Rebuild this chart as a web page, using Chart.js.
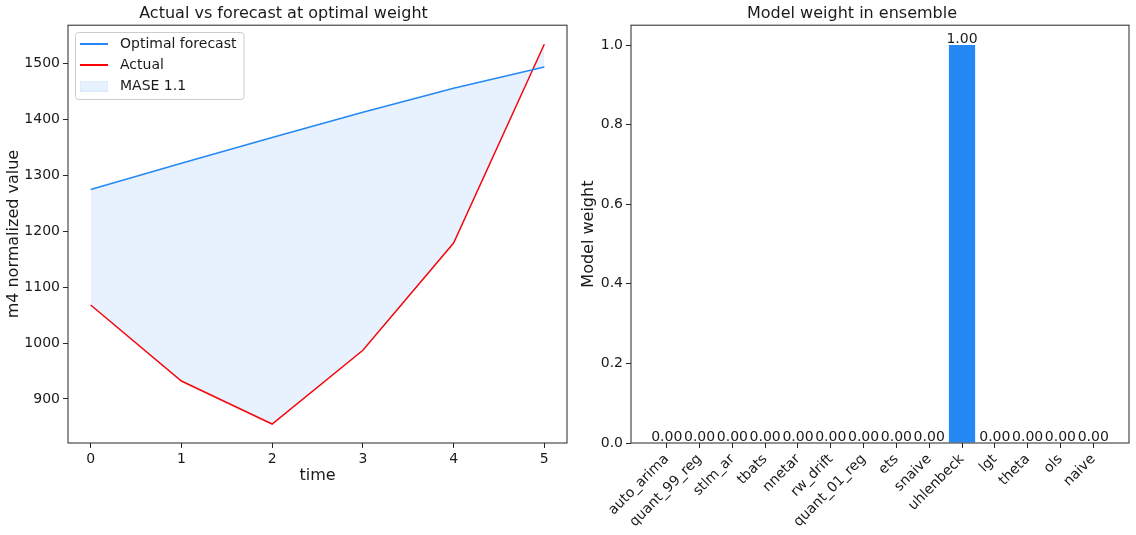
<!DOCTYPE html>
<html>
<head>
<meta charset="utf-8">
<script src="https://cdn.jsdelivr.net/npm/chart.js@4"></script>
<style>
  html, body { margin: 0; padding: 0; background: #fff; }
  #wrap { position: relative; width: 1136px; height: 535px; }
  #chart_left { position: absolute; left: 0; top: 0; }
  #chart_right { position: absolute; left: 575px; top: 0; }
</style>
</head>
<body>
<div id="wrap">
  <canvas id="chart_left" width="575" height="535"></canvas>
  <canvas id="chart_right" width="561" height="535"></canvas>
</div>
<script>
// dados
const times = [0, 1, 2, 3, 4, 5];
const forecast = [1275, 1322, 1368, 1413, 1456, 1494];
const actual = [1068, 932, 855, 987, 1179, 1535];
const yTicksLeft = [900, 1000, 1100, 1200, 1300, 1400, 1500];

const models = ['auto_arima', 'quant_99_reg', 'stlm_ar', 'tbats', 'nnetar', 'rw_drift', 'quant_01_reg',
  'ets', 'snaive', 'uhlenbeck', 'lgt', 'theta', 'ols', 'naive'];
const weights = [0, 0, 0, 0, 0, 0, 0, 0, 0, 1, 0, 0, 0, 0];

const BLUE = '#2588f4';
const RED = '#ff0000';
const FILL = 'rgba(37,136,244,0.11)';
const AXIS = '#262626';

Chart.defaults.font.family = 'DejaVu Sans';
Chart.defaults.font.size = 14;
Chart.defaults.color = '#1a1a1a';

// moldura completa dos eixos (estilo matplotlib)
const frame = {
  id: 'frame',
  afterDraw(chart) {
    const a = chart.chartArea, ctx = chart.ctx;
    ctx.save();
    ctx.strokeStyle = AXIS;
    ctx.lineWidth = 1;
    ctx.strokeRect(a.left, a.top, a.right - a.left, a.bottom - a.top);
    ctx.restore();
  }
};

// caixa em volta da legenda
const legendBox = {
  id: 'legendBox',
  afterDraw(chart) {
    const hb = chart.legend && chart.legend.legendHitBoxes;
    if (!hb || !hb.length) return;
    const x0 = hb[0].left;
    const y0 = hb[0].top - 5;
    const x1 = Math.max(...hb.map(h => h.left + h.width)) + 7;
    const y1 = hb[hb.length - 1].top + hb[hb.length - 1].height + 6;
    const ctx = chart.ctx;
    ctx.save();
    ctx.strokeStyle = '#cccccc';
    ctx.lineWidth = 1;
    ctx.beginPath();
    ctx.roundRect(x0 + 0.5, y0 + 0.5, x1 - x0, y1 - y0, 3);
    ctx.stroke();
    ctx.restore();
  }
};

// rótulos de valor em cima das barras
const barLabels = {
  id: 'barLabels',
  afterDatasetsDraw(chart) {
    const ctx = chart.ctx;
    const meta = chart.getDatasetMeta(0);
    ctx.save();
    ctx.font = '14px "DejaVu Sans"';
    ctx.fillStyle = '#1a1a1a';
    ctx.textAlign = 'center';
    ctx.textBaseline = 'alphabetic';
    meta.data.forEach(function (bar, i) {
      ctx.fillText(weights[i].toFixed(2), bar.x, bar.y - 2);
    });
    ctx.restore();
  }
};

function makeHandle(w, h, fill, stroke) {
  const c = document.createElement('canvas');
  c.width = w; c.height = h;
  const g = c.getContext('2d');
  g.fillStyle = fill;
  g.fillRect(0, 0, w, h);
  if (stroke) {
    g.strokeStyle = stroke;
    g.lineWidth = 1;
    g.strokeRect(0.5, 0.5, w - 1, h - 1);
  }
  return c;
}

const handles = [
  makeHandle(28, 2, BLUE),
  makeHandle(28, 2, RED),
  makeHandle(28, 11, 'rgba(37,136,244,0.11)', 'rgba(37,136,244,0.08)')
];
const legendTexts = ['Optimal forecast', 'Actual', 'MASE 1.1'];

function tickMarks() {
  return { drawOnChartArea: false, drawTicks: true, tickLength: 5, color: AXIS, offset: false };
}

new Chart(document.getElementById('chart_left'), {
  type: 'line',
  data: {
    datasets: [{
      label: 'Optimal forecast',
      data: times.map((t, i) => ({ x: t, y: forecast[i] })),
      borderColor: BLUE,
      backgroundColor: FILL,
      borderWidth: 1.5,
      pointRadius: 0,
      tension: 0,
      fill: '+1'
    }, {
      label: 'Actual',
      data: times.map((t, i) => ({ x: t, y: actual[i] })),
      borderColor: RED,
      backgroundColor: RED,
      borderWidth: 1.5,
      pointRadius: 0,
      tension: 0,
      fill: false
    }]
  },
  options: {
    responsive: false,
    animation: false,
    layout: { padding: { left: 0, right: 8, top: 0, bottom: 46 } },
    scales: {
      x: {
        type: 'linear',
        min: -0.25,
        max: 5.25,
        offset: false,
        grid: tickMarks(),
        border: { display: false },
        ticks: { stepSize: 1, includeBounds: false, padding: 3, color: '#1a1a1a' },
        afterBuildTicks: (s) => { s.ticks = s.ticks.filter(t => times.includes(t.value)); },
        afterFit: (s) => { s.height = 46; },
        title: { display: true, text: 'time', font: { size: 16 }, padding: { top: 4, bottom: 4 } }
      },
      y: {
        min: 821,
        max: 1569,
        grid: tickMarks(),
        border: { display: false },
        ticks: { stepSize: 100, includeBounds: false, padding: 3, color: '#1a1a1a',
          callback: (v) => String(v) },
        afterBuildTicks: (s) => { s.ticks = s.ticks.filter(t => yTicksLeft.includes(t.value)); },
        afterFit: (s) => { s.width = 68; },
        title: { display: true, text: 'm4 normalized value', font: { size: 16 }, padding: { top: 4, bottom: 4 } }
      }
    },
    plugins: {
      title: {
        display: true,
        text: 'Actual vs forecast at optimal weight',
        font: { size: 16, weight: 'normal' },
        color: '#1a1a1a',
        padding: { top: 4, bottom: 2 }
      },
      legend: {
        position: 'chartArea',
        align: 'start',
        // o topo da legenda fica em 0, então o título vazio empurra as linhas para baixo
        title: { display: true, text: '', padding: { top: 30, bottom: 0 }, font: { size: 1, lineHeight: 0 } },
        labels: {
          usePointStyle: true,
          pointStyleWidth: 38,
          padding: 7,
          color: '#1a1a1a',
          font: { size: 14 },
          generateLabels: () => legendTexts.map((t, i) => ({
            text: t, pointStyle: handles[i], fillStyle: 'transparent',
            strokeStyle: 'transparent', lineWidth: 0, hidden: false, datasetIndex: i
          }))
        }
      },
      tooltip: { enabled: false }
    }
  },
  plugins: [frame, legendBox]
});

new Chart(document.getElementById('chart_right'), {
  type: 'bar',
  data: {
    datasets: [{
      label: 'Model weight',
      data: models.map((m, i) => ({ x: i, y: weights[i] })),
      backgroundColor: BLUE,
      borderWidth: 0,
      categoryPercentage: 0.8,
      barPercentage: 1
    }]
  },
  options: {
    responsive: false,
    animation: false,
    layout: { padding: { left: 0, right: 7, top: 0, bottom: 0 } },
    scales: {
      x: {
        type: 'linear',
        min: -1.09,
        max: 14.09,
        offset: false,
        grid: tickMarks(),
        border: { display: false },
        ticks: {
          stepSize: 1, includeBounds: false, padding: 3, autoSkip: false,
          minRotation: 45, maxRotation: 45, color: '#1a1a1a',
          callback: (v) => models[v] !== undefined ? models[v] : ''
        },
        afterBuildTicks: (s) => { s.ticks = s.ticks.filter(t => t.value >= 0 && t.value < models.length); },
        afterFit: (s) => { s.height = 92; }
      },
      y: {
        min: 0,
        max: 1.05,
        grid: tickMarks(),
        border: { display: false },
        ticks: { stepSize: 0.2, includeBounds: false, padding: 3, color: '#1a1a1a',
          callback: (v) => Number(v).toFixed(1) },
        afterFit: (s) => { s.width = 56; },
        title: { display: true, text: 'Model weight', font: { size: 16 }, padding: { top: 4, bottom: 4 } }
      }
    },
    plugins: {
      title: {
        display: true,
        text: 'Model weight in ensemble',
        font: { size: 16, weight: 'normal' },
        color: '#1a1a1a',
        padding: { top: 4, bottom: 2 }
      },
      legend: { display: false },
      tooltip: { enabled: false }
    }
  },
  plugins: [frame, barLabels]
});
</script>
</body>
</html>
